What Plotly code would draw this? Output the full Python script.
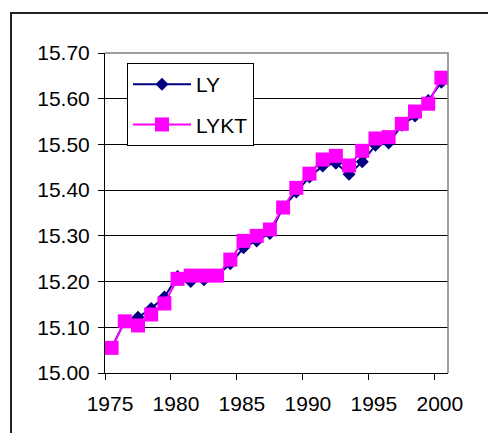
import plotly.graph_objects as go

# Annual observations, plotted at mid-year
years = list(range(1975, 2001))
ly = [15.055, 15.113, 15.122, 15.141, 15.166, 15.211, 15.200, 15.204, 15.213, 15.239,
      15.274, 15.289, 15.305, 15.362, 15.396, 15.429, 15.453, 15.459, 15.435, 15.462,
      15.498, 15.503, 15.542, 15.562, 15.596, 15.636]
lykt = [15.055, 15.113, 15.104, 15.128, 15.152, 15.206, 15.213, 15.213, 15.213, 15.248,
        15.289, 15.300, 15.314, 15.362, 15.405, 15.436, 15.467, 15.475, 15.454, 15.486,
        15.513, 15.516, 15.545, 15.572, 15.589, 15.646]
x_mid = [y + 0.5 for y in years]

font_family = "Liberation Sans, Arial, sans-serif"

# outer frame: left and top edges only, the rest runs off the page
fx0 = (11 - 105) / 343
fx1 = (488 - 105) / 343
fy1 = (373 - 13) / 320
fy0 = (373 - 433) / 320
frame_path = f"M {fx0},{fy0} L {fx0},{fy1} L {fx1},{fy1}"

fig = go.Figure()
fig.add_trace(go.Scatter(
    x=x_mid, y=ly, name="LY", mode="lines+markers",
    line=dict(color="#000080", width=2),
    marker=dict(symbol="diamond", size=10, color="#000080"),
    legendgroup="a",
))
fig.add_trace(go.Scatter(
    x=x_mid, y=lykt, name="LYKT", mode="lines+markers",
    line=dict(color="#FF00FF", width=2),
    marker=dict(symbol="square", size=14, color="#FF00FF"),
    legendgroup="b",
))

fig.update_layout(
    width=488, height=433,
    margin=dict(l=105, r=40, t=53, b=60),
    paper_bgcolor="white", plot_bgcolor="white",
    font=dict(family=font_family, size=21, color="black"),
    showlegend=True,
    legend=dict(
        x=(127 - 105) / 343, y=1 - (63 - 53) / 320, xanchor="left", yanchor="top",
        bgcolor="white", bordercolor="black", borderwidth=1,
        font=dict(size=21, color="black"), tracegroupgap=10,
        itemwidth=58,
    ),
    xaxis=dict(
        range=[1975, 2001], tickmode="linear", tick0=1975, dtick=5,
        showgrid=False, zeroline=False,
        showline=True, linecolor="black", linewidth=1,
        ticks="outside", ticklen=6, tickcolor="black",
        ticklabelstandoff=6, ticklabelshift=5,
    ),
    yaxis=dict(
        range=[15.0, 15.7], tickmode="linear", tick0=15.0, dtick=0.1,
        tickformat=".2f",
        showgrid=True, gridcolor="black", gridwidth=1, zeroline=False,
        showline=True, linecolor="black", linewidth=1,
        ticks="outside", ticklen=6, tickcolor="black",
        ticklabelstandoff=4,
    ),
    shapes=[
        # gray top/right edges of the plot area
        dict(type="path", xref="paper", yref="paper",
             path="M 0,1 L 1,1 L 1,0", line=dict(color="#808080", width=1.5),
             layer="above"),
        dict(type="path", xref="paper", yref="paper", path=frame_path,
             line=dict(color="#222222", width=2), layer="below"),
    ],
)

fig.write_html("out.html")
